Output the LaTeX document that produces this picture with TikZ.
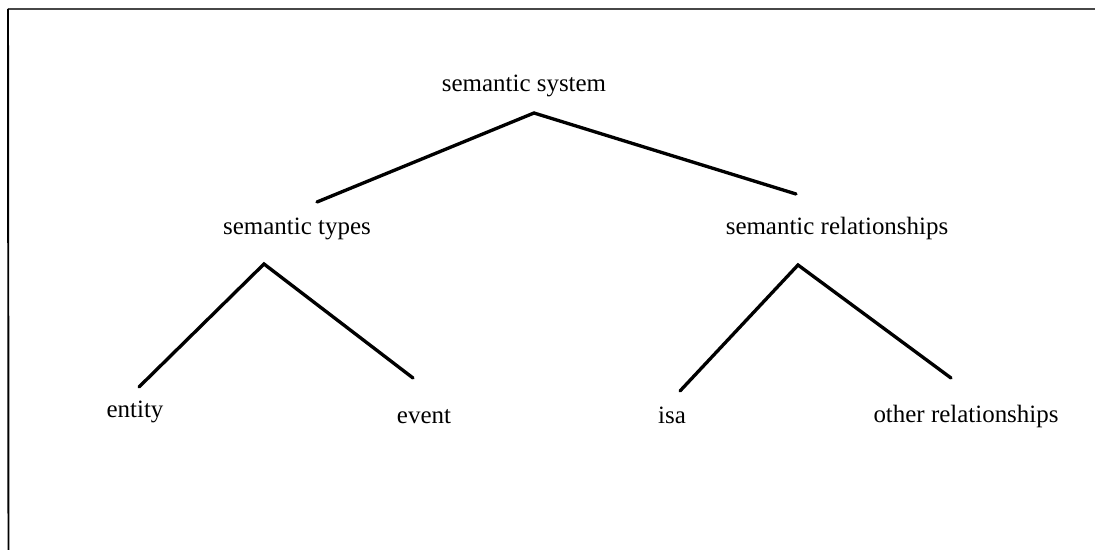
\documentclass[tikz,border=0pt]{standalone}
\usepackage{fontspec}
\setmainfont{Liberation Serif}
\usetikzlibrary{calc}
\tikzset{
	tree diagram/.style={
		x=0.02cm, y=-0.02cm,
		term/.style={font=\fontsize{14.2}{17}\selectfont, inner sep=0pt, anchor=base},
		branch/.style={line width=1.9pt, line cap=round},
		frame/.style={line width=1.1pt}
		}
}

\begin{document}
\begin{tikzpicture}[tree diagram]
   \useasboundingbox (0,0) rectangle (1095,550);
   \draw[frame, black!72] (8,9) coordinate (frame_nw) -- (1095,9) coordinate (frame_ne);
   \draw[frame] (frame_nw) -- (8.5,550) coordinate (frame_sw);
   % labels
   \node[term] (sys)   at (524,92)  {semantic system};
   \node[term] (types) at (297,235) {semantic types};
   \node[term] (rels)  at (837,235) {semantic relationships};
   \node[term] (ent)   at (135,418) {entity};
   \node[term] (evt)   at (424,423) {event};
   \node[term] (isa)   at (672,423) {isa};
   \node[term] (other) at (966,422) {other relationships};
   % branch points
   \coordinate (sys_apex)   at (534,113);
   \coordinate (types_top)  at (317,202);
   \coordinate (rels_top)   at (796,194);
   \coordinate (types_apex) at (264,264);
   \coordinate (ent_top)    at (139,387);
   \coordinate (evt_top)    at (413,378);
   \coordinate (rels_apex)  at (798,265);
   \coordinate (isa_top)    at (680,391);
   \coordinate (other_top)  at (951,378);
   \draw[branch] (types_top) -- (sys_apex) -- (rels_top);
   \draw[branch] (ent_top) -- (types_apex) -- (evt_top);
   \draw[branch] (isa_top) -- (rels_apex) -- (other_top);
\end{tikzpicture}
\end{document}
